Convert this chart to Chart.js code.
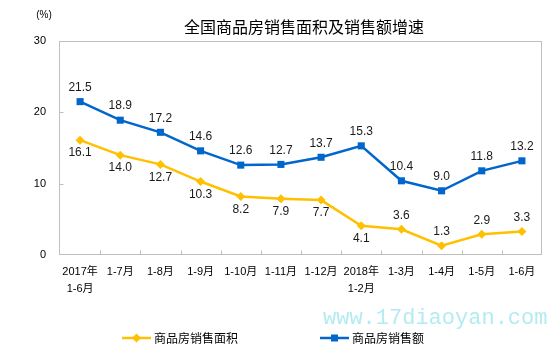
<!DOCTYPE html>
<html>
<head>
<meta charset="utf-8">
<script src="https://cdn.jsdelivr.net/npm/chart.js@4/dist/chart.umd.min.js"></script>
<style>
html,body{margin:0;padding:0;background:#fff;}
canvas{display:block;}
</style>
</head>
<body>
<canvas id="c" width="555" height="358"></canvas>
<script>
const categories = [['2017年','1-6月'],'1-7月','1-8月','1-9月','1-10月','1-11月','1-12月',['2018年','1-2月'],'1-3月','1-4月','1-5月','1-6月'];
const areaGrowth = [16.1, 14.0, 12.7, 10.3, 8.2, 7.9, 7.7, 4.1, 3.6, 1.3, 2.9, 3.3];
const salesGrowth = [21.5, 18.9, 17.2, 14.6, 12.6, 12.7, 13.7, 15.3, 10.4, 9.0, 11.8, 13.2];
const yTicks = [0, 10, 20, 30];
const seriesNames = ['商品房销售面积', '商品房销售额'];
const titleText = '全国商品房销售面积及销售额增速';
const unitText = '(%)';
const watermarkText = 'www.17diaoyan.com';

// label placement per point (style, not data)
const areaLabelPos = ['below','below','below','below','below','below','below','below','above','above','above','above'];
const salesLabelPos = salesGrowth.map(() => 'above');

const YELLOW = '#FFC000';
const BLUE = '#0066CC';
const CJK = "'Liberation Sans','Noto Sans CJK SC',sans-serif";

const framePlugin = {
  id: 'frame',
  beforeDatasetsDraw(chart) {
    const {ctx, chartArea: a, scales: {x, y}} = chart;
    ctx.save();
    ctx.strokeStyle = '#bfbfbf';
    ctx.lineWidth = 1;
    const L = Math.round(a.left) - 0.5, R = Math.round(a.right) - 0.5;
    const T = Math.round(a.top) + 0.5, B = Math.round(a.bottom) - 0.5;
    ctx.strokeRect(L, T, R - L, B - T);
    ctx.beginPath();
    for (let i = 1; i < categories.length; i++) {
      const px = Math.round((x.getPixelForValue(i - 1) + x.getPixelForValue(i)) / 2) + 0.5;
      ctx.moveTo(px, B);
      ctx.lineTo(px, B - 4);
    }
    yTicks.forEach(v => {
      if (v === yTicks[0] || v === yTicks[yTicks.length - 1]) return;
      const py = Math.round(y.getPixelForValue(v)) + 0.5;
      ctx.moveTo(L, py);
      ctx.lineTo(L + 4, py);
    });
    ctx.stroke();
    ctx.restore();
  }
};

const labelPlugin = {
  id: 'valueLabels',
  afterDatasetsDraw(chart) {
    const {ctx} = chart;
    ctx.save();
    ctx.font = "12px 'Liberation Sans', Arial, sans-serif";
    ctx.fillStyle = '#1a1a1a';
    ctx.textAlign = 'center';
    ctx.textBaseline = 'middle';
    const posSets = [areaLabelPos, salesLabelPos];
    chart.data.datasets.forEach((ds, di) => {
      const meta = chart.getDatasetMeta(di);
      meta.data.forEach((pt, i) => {
        const pos = posSets[di][i];
        const dy = pos === 'above' ? -14 : 13;
        ctx.fillText(ds.data[i].toFixed(1), pt.x, pt.y + dy);
      });
    });
    ctx.restore();
  }
};

function drawMarker(ctx, style, x, y, color) {
  ctx.fillStyle = color;
  ctx.beginPath();
  if (style === 'rectRot') {
    ctx.moveTo(x, y - 4.5); ctx.lineTo(x + 4.5, y); ctx.lineTo(x, y + 4.5); ctx.lineTo(x - 4.5, y);
  } else {
    ctx.rect(x - 3.5, y - 3.5, 7, 7);
  }
  ctx.closePath();
  ctx.fill();
}

const decorPlugin = {
  id: 'decor',
  afterDraw(chart) {
    const {ctx, chartArea: a} = chart;
    ctx.save();
    // title
    ctx.fillStyle = '#000';
    ctx.font = "16px 'Noto Sans CJK SC', sans-serif";
    ctx.textAlign = 'center';
    ctx.textBaseline = 'middle';
    ctx.fillText(titleText, (a.left + a.right) / 2 + 3, 27);
    // unit
    ctx.font = "10px " + CJK;
    ctx.fillText(unitText, 44, 15);
    // watermark
    ctx.fillStyle = '#b3ecf0';
    ctx.font = "22px 'Liberation Mono', 'DejaVu Sans Mono', monospace";
    ctx.textAlign = 'left';
    ctx.fillText(watermarkText, 323, 318);
    // legend
    const items = [
      {x: 122, ds: chart.data.datasets[0]},
      {x: 320, ds: chart.data.datasets[1]}
    ];
    const ly = 338;
    items.forEach(it => {
      ctx.strokeStyle = it.ds.borderColor;
      ctx.lineWidth = 2.5;
      ctx.beginPath();
      ctx.moveTo(it.x, ly);
      ctx.lineTo(it.x + 29, ly);
      ctx.stroke();
      drawMarker(ctx, it.ds.pointStyle, it.x + 14.5, ly, it.ds.borderColor);
      ctx.fillStyle = '#000';
      ctx.font = "12px 'Noto Sans CJK SC', sans-serif";
      ctx.textAlign = 'left';
      ctx.textBaseline = 'middle';
      ctx.fillText(it.ds.label, it.x + 32, ly);
    });
    ctx.restore();
  }
};

new Chart(document.getElementById('c'), {
  type: 'line',
  data: {
    labels: categories,
    datasets: [
      {
        label: seriesNames[0],
        data: areaGrowth,
        borderColor: YELLOW,
        backgroundColor: YELLOW,
        borderWidth: 2.5,
        pointStyle: 'rectRot',
        pointRadius: 4.5,
        pointHoverRadius: 4.5,
        pointBorderWidth: 0,
        tension: 0
      },
      {
        label: seriesNames[1],
        data: salesGrowth,
        borderColor: BLUE,
        backgroundColor: BLUE,
        borderWidth: 2.5,
        pointStyle: 'rect',
        pointRadius: 5,
        pointHoverRadius: 5,
        pointBorderWidth: 0,
        tension: 0
      }
    ]
  },
  options: {
    responsive: false,
    animation: false,
    devicePixelRatio: 1,
    layout: {padding: {left: 0, right: 13, top: 41, bottom: 0}},
    plugins: {
      legend: {display: false},
      title: {display: false},
      tooltip: {enabled: false}
    },
    scales: {
      x: {
        type: 'category',
        offset: true,
        grid: {display: false, offset: true},
        border: {display: false},
        ticks: {
          color: '#000',
          font: {size: 11, family: CJK, lineHeight: 1.5},
          maxRotation: 0,
          autoSkip: false,
          padding: 1
        },
        afterFit(scale) { scale.height = 103; }
      },
      y: {
        min: 0,
        max: 30,
        grid: {display: false},
        border: {display: false},
        afterBuildTicks(scale) { scale.ticks = yTicks.map(v => ({value: v})); },
        ticks: {
          color: '#000',
          font: {size: 11, family: CJK},
          padding: 6
        },
        afterFit(scale) { scale.width = 60; }
      }
    }
  },
  plugins: [framePlugin, labelPlugin, decorPlugin]
});
</script>
</body>
</html>
